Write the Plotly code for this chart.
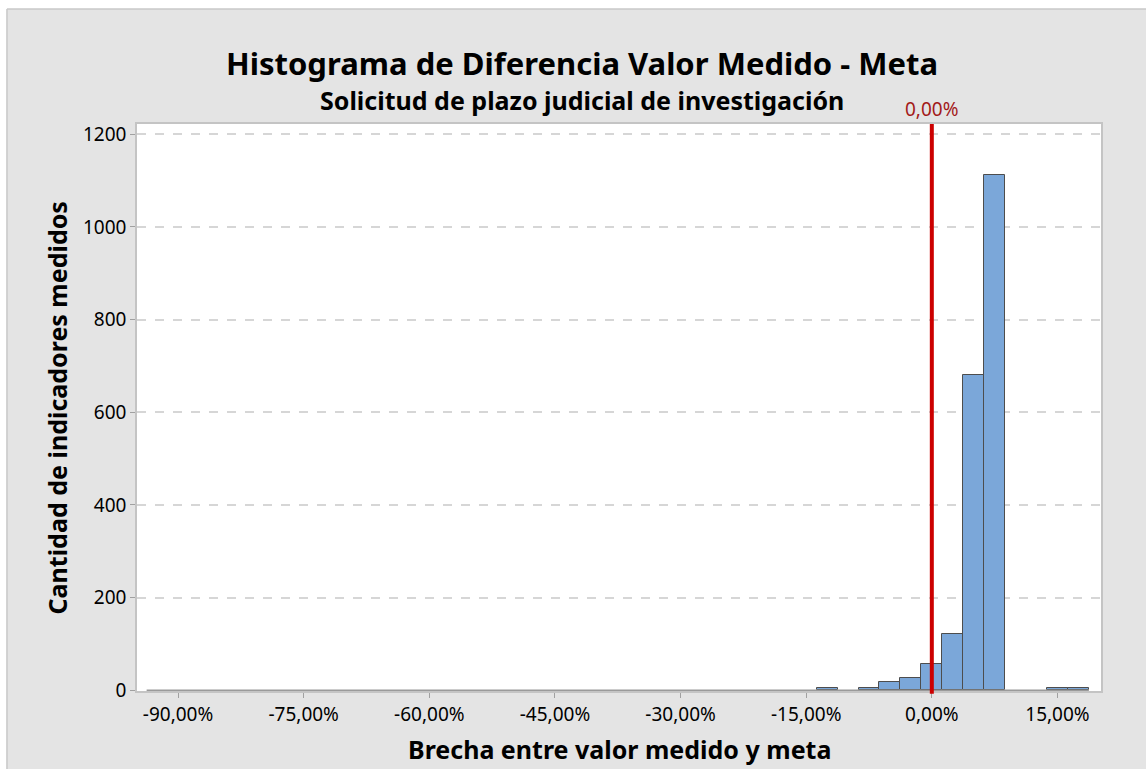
import plotly.graph_objects as go

# ---- data ----
bin_centers = [-12.5, -7.5, -5.0, -2.5, 0.0, 2.5, 5.0, 7.5, 15.0, 17.5]
counts = [6, 6, 17, 26, 56, 122, 680, 1113, 6, 6]
bin_width = 2.5
hist_min, hist_max = -93.75, 18.75  # extent of (mostly empty) histogram bins
ref_value = 0.0
ref_label = "0,00%"
x_tick_vals = [-90, -75, -60, -45, -30, -15, 0, 15]
x_tick_text = ["-90,00%", "-75,00%", "-60,00%", "-45,00%", "-30,00%", "-15,00%", "0,00%", "15,00%"]
y_tick_vals = [0, 200, 400, 600, 800, 1000, 1200]

title = "Histograma de Diferencia Valor Medido - Meta"
subtitle = "Solicitud de plazo judicial de investigación"
x_title = "Brecha entre valor medido y meta"
y_title = "Cantidad de indicadores medidos"

FONT = "Noto Sans"

fig = go.Figure()

# baseline of empty bins
fig.add_trace(go.Scatter(x=[hist_min, hist_max], y=[0, 0], mode="lines",
                         line=dict(color="#9a9a9a", width=1.5), hoverinfo="skip",
                         showlegend=False))

fig.add_trace(go.Bar(x=bin_centers, y=counts, width=bin_width,
                     marker=dict(color="#7ba7d9", line=dict(color="#4d4d4d", width=1)),
                     showlegend=False))

# reference line
fig.add_shape(type="line", xref="x", yref="paper", x0=ref_value, x1=ref_value,
              y0=-0.005, y1=1, line=dict(color="#cc0000", width=4), layer="above")
fig.add_annotation(x=ref_value, xref="x", y=1.026, yref="paper", text=ref_label,
                   showarrow=False, font=dict(family=FONT, size=19, color="#a31a1a"),
                   xanchor="center", yanchor="middle")

# titles
fig.add_annotation(x=0.4616, xref="paper", y=1.1076, yref="paper", text="<b>" + title + "</b>",
                   showarrow=False, font=dict(family=FONT, size=31, color="black"),
                   xanchor="center", yanchor="middle")
fig.add_annotation(x=0.4616, xref="paper", y=1.0423, yref="paper", text="<b>" + subtitle + "</b>",
                   showarrow=False, font=dict(family=FONT, size=25, color="black"),
                   xanchor="center", yanchor="middle")
fig.add_annotation(x=0.5, xref="paper", y=-0.1023, yref="paper", text="<b>" + x_title + "</b>",
                   showarrow=False, font=dict(family=FONT, size=25, color="black"),
                   xanchor="center", yanchor="middle")
fig.add_annotation(x=-0.0830, xref="paper", y=0.5, yref="paper", text="<b>" + y_title + "</b>",
                   showarrow=False, textangle=-90,
                   font=dict(family=FONT, size=25, color="black"),
                   xanchor="center", yanchor="middle")

# white strips at top/left of the outer frame
fig.add_shape(type="rect", xref="paper", yref="paper", x0=-0.16, x1=1.1,
              y0=1.2028, y1=1.23, fillcolor="white", line=dict(width=0), layer="below")
fig.add_shape(type="rect", xref="paper", yref="paper", x0=-0.16, x1=-0.1349,
              y0=-0.2, y1=1.23, fillcolor="white", line=dict(width=0), layer="below")
fig.add_shape(type="line", xref="paper", yref="paper", x0=-0.1349, x1=1.1,
              y0=1.2028, y1=1.2028, line=dict(color="#c8c8c8", width=1.5), layer="below")
fig.add_shape(type="line", xref="paper", yref="paper", x0=-0.1349, x1=-0.1349,
              y0=-0.2, y1=1.2028, line=dict(color="#c8c8c8", width=1.5), layer="below")

fig.update_layout(
    width=1146, height=769,
    margin=dict(l=137, r=45, t=124, b=78),
    paper_bgcolor="#e4e4e4",
    plot_bgcolor="white",
    bargap=0,
    font=dict(family=FONT, size=19, color="black"),
)
fig.update_xaxes(range=[-94.9, 20.2], tickvals=x_tick_vals, ticktext=x_tick_text,
                 showgrid=False, zeroline=False, showline=True, mirror=True,
                 linecolor="#c4c4c4", linewidth=1.5,
                 ticks="outside", ticklen=5, tickcolor="#a0a0a0",
                 tickfont=dict(family=FONT, size=19, color="black"))
fig.update_yaxes(range=[-1.5, 1222], tickvals=y_tick_vals,
                 showgrid=True, gridcolor="#d6d6d6", griddash="dash", gridwidth=1.5,
                 zeroline=False, showline=True, mirror=True,
                 linecolor="#c4c4c4", linewidth=1.5,
                 ticks="outside", ticklen=5, tickcolor="#a0a0a0",
                 tickfont=dict(family=FONT, size=19, color="black"))

fig.write_html("out.html", config={"displayModeBar": False},
               post_script="document.body.style.margin='0';document.body.style.overflow='hidden';")
